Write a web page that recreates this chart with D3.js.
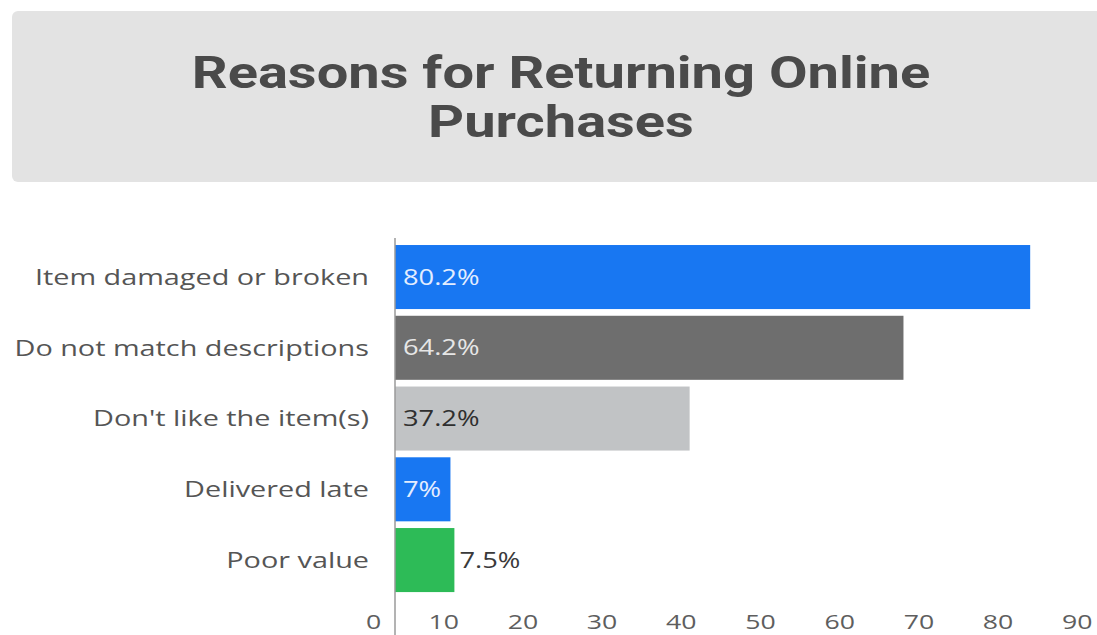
<!DOCTYPE html>
<html>
<head>
<meta charset="utf-8">
<script src="https://cdn.jsdelivr.net/npm/d3@7"></script>
<style>
  html, body { margin: 0; padding: 0; background: #ffffff; }
  svg { display: block; }
</style>
</head>
<body>
<svg id="chart" width="1097" height="635"></svg>
<script>
// Survey results: share of shoppers citing each reason (%)
const categories = [
  "Item damaged or broken",
  "Do not match descriptions",
  "Don't like the item(s)",
  "Delivered late",
  "Poor value"
];
const values = [80.2, 64.2, 37.2, 7, 7.5];
const valueLabels = ["80.2%", "64.2%", "37.2%", "7%", "7.5%"];
const barColors = ["#1877f2", "#6e6e6e", "#c1c3c5", "#1877f2", "#2dbb57"];
const labelColors = ["#e3edff", "#e6e6e6", "#2f2f2f", "#e3edff", "#3a3a3a"];
const tickValues = [0, 10, 20, 30, 40, 50, 60, 70, 80, 90];
const titleLines = ["Reasons for Returning Online", "Purchases"];

const W = 1097, H = 635;
const textStretch = 1.3;    // wide lettering for value and tick labels
const catStretch = 1.34;    // wide lettering for category names
const titleStretch = 1.245;

const svg = d3.select("#chart");

// Title panel
svg.append("rect")
  .attr("x", 12).attr("y", 11)
  .attr("width", 1110).attr("height", 171)
  .attr("rx", 6)
  .attr("fill", "#e3e3e3");

const titleG = svg.append("g");
titleLines.forEach((line, i) => {
  titleG.append("g")
    .attr("transform", `translate(561,${88 + i * 49}) scale(${titleStretch},1)`)
    .append("text")
    .attr("text-anchor", "middle")
    .attr("font-family", "Roboto, 'Liberation Sans', sans-serif")
    .attr("font-weight", 700)
    .attr("font-size", 45)
    .attr("fill", "#4a4a4a")
    .text(line);
});

// Scales
const x = d3.scaleLinear().domain([0, 90]).range([395, 395 + 90 * 7.92]);
const y = d3.scaleBand().domain(categories).range([238.3, 598.8]).padding(0.095);

const font = "'Open Sans', 'Noto Sans', sans-serif";

// Bars
const rows = categories.map((c, i) => ({
  cat: c, value: values[i], label: valueLabels[i],
  color: barColors[i], textColor: labelColors[i]
}));

svg.append("g").selectAll("rect")
  .data(rows)
  .join("rect")
  .attr("x", x(0))
  .attr("y", d => y(d.cat))
  .attr("width", d => x(d.value) - x(0))
  .attr("height", y.bandwidth())
  .attr("fill", d => d.color);

// Value labels: inside the bar when there is room, otherwise just past its end
const valG = svg.append("g");
rows.forEach(d => {
  const g = valG.append("g");
  const t = g.append("text")
    .attr("font-family", font)
    .attr("font-size", 21)
    .attr("dy", "0.36em")
    .attr("fill", d.textColor)
    .text(d.label);
  const w = t.node().getComputedTextLength() * textStretch;
  const barW = x(d.value) - x(0);
  const inside = w + 10 < barW;
  const tx = inside ? x(0) + 8 : x(d.value) + 5;
  g.attr("transform", `translate(${tx},${y(d.cat) + y.bandwidth() / 2}) scale(${textStretch},1)`);
});

// Category axis
const yAxis = svg.append("g")
  .attr("transform", `translate(${x(0)},0)`)
  .call(d3.axisLeft(y).tickSize(0).tickPadding(0));
yAxis.select(".domain").remove();
yAxis.selectAll("text")
  .attr("x", 0)
  .attr("dy", "0.36em")
  .attr("transform", `translate(-26,0) scale(${catStretch},1)`)
  .attr("font-family", font)
  .attr("font-size", 21.5)
  .attr("fill", "#555555");

// Value axis
const xAxis = svg.append("g")
  .attr("transform", "translate(0,610)")
  .call(d3.axisBottom(x).tickValues(tickValues).tickSize(0).tickPadding(4));
xAxis.select(".domain").remove();
xAxis.selectAll("text")
  .attr("transform", d => `translate(${d === 0 ? -22 : -31},0) scale(${textStretch},1)`)
  .attr("font-family", font)
  .attr("font-size", 20.5)
  .attr("fill", "#5e5e5e");

// Baseline at zero
svg.append("line")
  .attr("x1", x(0)).attr("x2", x(0))
  .attr("y1", 238).attr("y2", H)
  .attr("stroke", "#9a9a9a")
  .attr("stroke-width", 1.5);
</script>
</body>
</html>
